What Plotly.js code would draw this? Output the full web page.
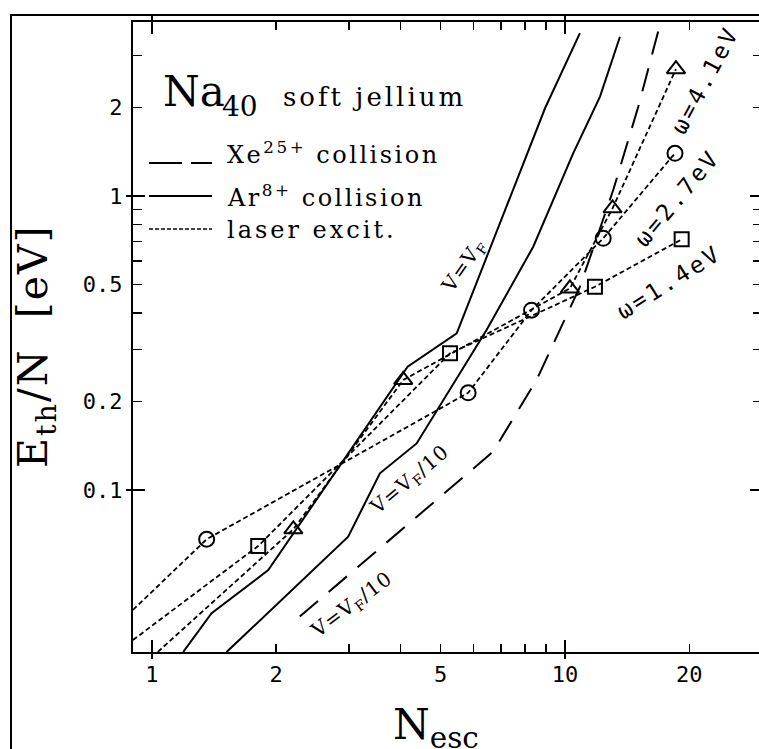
<!DOCTYPE html>
<html>
<head>
<meta charset="utf-8">
<script src="https://cdn.plot.ly/plotly-3.0.1.min.js"></script>
<style>
html,body{margin:0;padding:0;background:#fff;overflow:hidden;width:759px;height:749px;}
#frame{position:absolute;left:10px;top:14px;width:800px;height:800px;border-left:2px solid #000;border-top:2px solid #000;pointer-events:none;}
#plot{position:absolute;left:0;top:0;}
</style>
</head>
<body>
<div id="plot"></div>
<div id="frame"></div>
<script>
// ---- data ----
// Ar8+ collision, v = v_F
const arVF_x = [1.19, 1.395, 1.913, 4.16, 5.47, 8.95, 10.87];
const arVF_y = [0.0281, 0.0381, 0.0534, 0.2627, 0.341, 1.988, 3.58];
// Ar8+ collision, v = v_F/10
const arVF10_x = [1.516, 2.987, 3.565, 4.375, 6.46, 8.38, 10.47, 12.16, 13.59];
const arVF10_y = [0.0281, 0.0694, 0.114, 0.144, 0.350, 0.672, 1.397, 2.177, 3.48];
// Xe25+ collision, v = v_F/10
const xe_x = [2.28, 6.7, 8.54, 10.87, 13.09, 15.05, 16.98];
const xe_y = [0.0371, 0.135, 0.237, 0.491, 1.048, 2.01, 3.82];
// laser excitation, omega = 2.7 eV (circles)
const w27_x = [0.9, 1.357, 5.83, 8.30, 12.38, 18.47];
const w27_y = [0.0391, 0.068, 0.214, 0.409, 0.718, 1.397];
const w27_mark = [0, 1, 1, 1, 1, 1];
// laser excitation, omega = 1.4 eV (squares)
const w14_x = [0.9, 1.809, 5.27, 11.82, 19.17];
const w14_y = [0.0309, 0.0645, 0.2917, 0.491, 0.712];
const w14_mark = [0, 1, 1, 1, 1];
// laser excitation, omega = 4.1 eV (triangles)
const w41_x = [1.0, 2.20, 4.06, 10.28, 13.04, 18.57];
const w41_y = [0.027, 0.0735, 0.2367, 0.485, 0.908, 2.70];
const w41_mark = [0, 1, 1, 1, 1, 1];

// ticks
const xTickVals = [1, 2, 5, 10, 20];
const xTickText = ['1', '2', '5', '10', '20'];
const xMinorVals = [2, 3, 4, 5, 6, 7, 8, 9, 20, 30];
const xMajorVals = [1, 10];
const yTickVals = [0.1, 0.2, 0.5, 1, 2];
const yTickText = ['0.1', '0.2', '0.5', '1', '2'];
const yMinorVals = [0.2, 0.3, 0.4, 0.5, 0.6, 0.7, 0.8, 0.9, 2, 3];
const yMajorVals = [0.1, 1];

const xRange = [Math.log10(0.9), Math.log10(30)];
const yRange = [-1.551, 0.5918];

const serif = 'DejaVu Serif';
const mono = 'DejaVu Sans Mono';

const dotted = {color: '#000', width: 1.8, dash: '5px,3px'};
function sizes(m, s) { return m.map(v => v ? s : 0); }
function sp(t, px) { return '<span style="letter-spacing:' + px + 'px">' + t + '</span>'; }

const traces = [
  {x: arVF_x, y: arVF_y, mode: 'lines', line: {color: '#000', width: 2}},
  {x: arVF10_x, y: arVF10_y, mode: 'lines', line: {color: '#000', width: 2}},
  {x: xe_x, y: xe_y, mode: 'lines', line: {color: '#000', width: 2, dash: '24px,14px'}},
  {x: w27_x, y: w27_y, mode: 'lines+markers', line: dotted,
   marker: {symbol: 'circle-open', size: sizes(w27_mark, 15), opacity: 1, color: '#000', line: {width: 2, color: '#000'}}},
  {x: w14_x, y: w14_y, mode: 'lines+markers', line: dotted,
   marker: {symbol: 'square-open', size: sizes(w14_mark, 14), opacity: 1, color: '#000', line: {width: 2, color: '#000'}}},
  {x: w41_x, y: w41_y, mode: 'lines+markers', line: dotted,
   marker: {symbol: 'triangle-up-open', size: sizes(w41_mark, 16), opacity: 1, color: '#000', line: {width: 2, color: '#000'}}},
  {x: [], y: [], xaxis: 'x2', yaxis: 'y2', mode: 'lines'},
  {x: [], y: [], xaxis: 'x3', yaxis: 'y3', mode: 'lines'}
];

function px2x(px) { return (px - 133) / 629; }
function px2y(py) { return (652 - py) / 630; }

const baseAxis = {
  type: 'log', showgrid: false, zeroline: false, fixedrange: true
};

function ann(text, px, py, opts) {
  return Object.assign({text: text, xref: 'paper', yref: 'paper', x: px2x(px), y: px2y(py),
    xanchor: 'center', yanchor: 'middle', showarrow: false}, opts);
}

const layout = {
  width: 770, height: 749,
  margin: {l: 133, r: 8, t: 22, b: 97},
  paper_bgcolor: 'rgba(0,0,0,0)', plot_bgcolor: 'rgba(0,0,0,0)',
  showlegend: false,
  xaxis: Object.assign({}, baseAxis, {
    range: xRange, tickmode: 'array', tickvals: xTickVals, ticktext: xTickText,
    ticks: '', showline: true, linewidth: 2, linecolor: '#000', mirror: 'ticks',
    tickfont: {family: mono, size: 22, color: '#000'}, ticklabelstandoff: 2,
    minor: {tickmode: 'array', tickvals: xMinorVals, ticks: 'inside', ticklen: 8, tickwidth: 1.5, tickcolor: '#000'}
  }),
  yaxis: Object.assign({}, baseAxis, {
    range: yRange, tickmode: 'array', tickvals: yTickVals, ticktext: yTickText,
    ticks: '', showline: true, linewidth: 2, linecolor: '#000', mirror: 'ticks',
    tickfont: {family: mono, size: 22, color: '#000'}, ticklabelstandoff: 4,
    minor: {tickmode: 'array', tickvals: yMinorVals, ticks: 'inside', ticklen: 9, tickwidth: 1.5, tickcolor: '#000'}
  }),
  xaxis2: Object.assign({}, baseAxis, {
    range: xRange, overlaying: 'x', anchor: 'y2', tickmode: 'array', tickvals: xMajorVals,
    ticks: 'inside', ticklen: 12, tickwidth: 1.5, tickcolor: '#000', showticklabels: false, mirror: 'ticks', showline: false
  }),
  yaxis2: Object.assign({}, baseAxis, {
    range: yRange, overlaying: 'y', anchor: 'x2', tickmode: 'array', tickvals: yMajorVals,
    ticks: 'inside', ticklen: 12, tickwidth: 1.5, tickcolor: '#000', showticklabels: false, mirror: 'ticks', showline: false
  }),
  xaxis3: Object.assign({}, baseAxis, {
    range: xRange, overlaying: 'x', anchor: 'y3', tickmode: 'array', tickvals: xMajorVals,
    ticks: 'outside', ticklen: 6, tickwidth: 1.5, tickcolor: '#000', showticklabels: false, mirror: 'ticks', showline: false
  }),
  yaxis3: Object.assign({}, baseAxis, {
    range: yRange, overlaying: 'y', anchor: 'x3', tickmode: 'array', tickvals: yMajorVals,
    ticks: 'outside', ticklen: 6, tickwidth: 1.5, tickcolor: '#000', showticklabels: false, mirror: 'ticks', showline: false
  }),
  shapes: [
    {type: 'line', xref: 'paper', yref: 'paper', x0: px2x(149), x1: px2x(212), y0: px2y(163), y1: px2y(163),
     line: {color: '#000', width: 2, dash: '33px,9px'}},
    {type: 'line', xref: 'paper', yref: 'paper', x0: px2x(149), x1: px2x(212), y0: px2y(196), y1: px2y(196),
     line: {color: '#000', width: 2}},
    {type: 'line', xref: 'paper', yref: 'paper', x0: px2x(149), x1: px2x(212), y0: px2y(229), y1: px2y(229),
     line: {color: '#000', width: 1.5, dash: '4px,2px'}}
  ],
  annotations: [
    // title block
    ann('Na', 161, 91, {xanchor: 'left', font: {family: serif, size: 42, color: '#000'}}),
    ann('40', 220, 107, {xanchor: 'left', font: {family: serif, size: 28, color: '#000'}}),
    ann(sp('soft jellium', 3), 281, 97, {xanchor: 'left', font: {family: serif, size: 26, color: '#000'}}),
    // legend text
    ann(sp('Xe<sup>25+</sup> collision', 2.5), 225, 153, {xanchor: 'left', font: {family: serif, size: 24, color: '#000'}}),
    ann(sp('Ar<sup>8+</sup> collision', 2.5), 225, 196, {xanchor: 'left', font: {family: serif, size: 24, color: '#000'}}),
    ann(sp('laser excit.', 3), 225, 230, {xanchor: 'left', font: {family: serif, size: 24, color: '#000'}}),
    // curve labels
    ann(sp('V=V<sub>F</sub>', 1), 464, 266, {textangle: -55, font: {family: serif, size: 20, color: '#000'}}),
    ann(sp('V=V<sub>F</sub>/10', 1), 410, 480, {textangle: -40, font: {family: serif, size: 20, color: '#000'}}),
    ann(sp('V=V<sub>F</sub>/10', 1), 352, 605, {textangle: -37, font: {family: serif, size: 20, color: '#000'}}),
    ann(sp('ω=4.1eV', 3), 705, 80, {textangle: -62, font: {family: mono, size: 23, color: '#000'}}),
    ann(sp('ω=2.7eV', 3), 677, 198, {textangle: -50, font: {family: mono, size: 23, color: '#000'}}),
    ann(sp('ω=1.4eV', 3), 669, 282, {textangle: -32, font: {family: mono, size: 23, color: '#000'}}),
    // axis titles
    ann(sp('E<sub>th</sub>/N&nbsp;&nbsp;[eV]', 2), 36, 346, {textangle: -90, font: {family: serif, size: 41, color: '#000'}}),
    ann('N<sub>esc</sub>', 436, 727, {font: {family: serif, size: 42, color: '#000'}})
  ]
};

Plotly.newPlot('plot', traces, layout, {displayModeBar: false, staticPlot: true});
</script>
</body>
</html>
